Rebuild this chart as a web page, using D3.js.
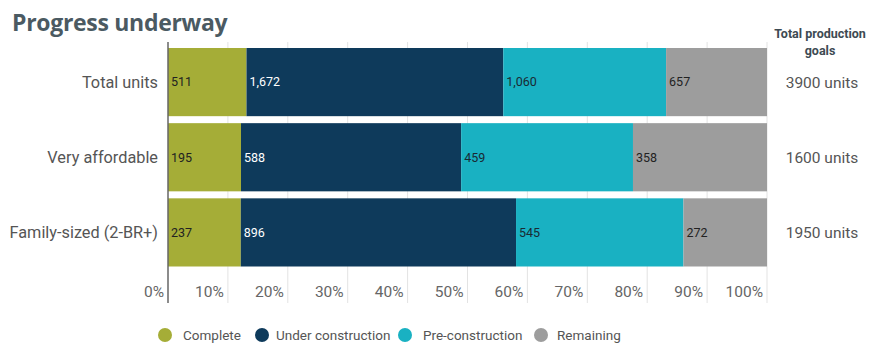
<!DOCTYPE html>
<html><head><meta charset="utf-8">
<script src="https://cdn.jsdelivr.net/npm/d3@7"></script>
<style>
body{margin:0;background:#fff;}
svg{display:block;font-family:Roboto,"Open Sans",sans-serif;}
</style></head>
<body>
<svg id="chart" width="877" height="343"></svg>
<script>
const categories = ["Total units", "Very affordable", "Family-sized (2-BR+)"];
const seriesNames = ["Complete", "Under construction", "Pre-construction", "Remaining"];
const complete = [511, 195, 237];
const underConstruction = [1672, 588, 896];
const preConstruction = [1060, 459, 545];
const remaining = [657, 358, 272];
const goals = [3900, 1600, 1950];
const goalLabels = ["3900 units", "1600 units", "1950 units"];
const tickValues = [0, 0.1, 0.2, 0.3, 0.4, 0.5, 0.6, 0.7, 0.8, 0.9, 1.0];
const colors = ["#a5ad37", "#0e3a5b", "#19b1c2", "#9d9d9d"];
const labelColors = ["#222", "#fff", "#1a2a33", "#222"];

const svg = d3.select("#chart");
const x = d3.scaleLinear().domain([0, 1]).range([168, 767]);
const y = d3.scaleBand().domain(categories).range([48, 266.5]).paddingInner(0.093).paddingOuter(0);

const seriesVals = [complete, underConstruction, preConstruction, remaining];
const rows = categories.map((c, i) => {
  const obj = {category: c};
  seriesNames.forEach((s, j) => obj[s] = seriesVals[j][i] / goals[i]);
  return obj;
});
const stacked = d3.stack().keys(seriesNames)(rows);

// gridlines
svg.append("g").selectAll("line").data(tickValues.slice(1)).join("line")
  .attr("x1", d => x(d)).attr("x2", d => x(d))
  .attr("y1", 42).attr("y2", 303)
  .attr("stroke", "#e3e3e3").attr("stroke-width", 1);

// bars
const layers = svg.append("g").selectAll("g").data(stacked).join("g")
  .attr("fill", (d, i) => colors[i]);
layers.selectAll("rect").data(d => d).join("rect")
  .attr("x", d => x(d[0]))
  .attr("width", d => x(d[1]) - x(d[0]))
  .attr("y", d => y(d.data.category))
  .attr("height", y.bandwidth());

// value labels
stacked.forEach((layer, j) => {
  svg.append("g").selectAll("text").data(layer).join("text")
    .attr("x", d => x(d[0]) + 3)
    .attr("y", d => y(d.data.category) + y.bandwidth() / 2)
    .attr("dy", "0.35em")
    .attr("font-size", 12.5)
    .attr("fill", labelColors[j])
    .text((d, i) => d3.format(",")(seriesVals[j][i]));
});

// axis line
svg.append("line").attr("x1", 168).attr("x2", 168).attr("y1", 42).attr("y2", 303)
  .attr("stroke", "#666").attr("stroke-width", 1.5);

// x tick labels
svg.append("g").selectAll("text").data(tickValues).join("text")
  .attr("x", d => x(d) - 4)
  .attr("y", 292)
  .attr("dy", "0.35em")
  .attr("text-anchor", "end")
  .attr("font-size", 15.5)
  .attr("fill", "#666")
  .text(d => d3.format(".0%")(d));

// category labels
svg.append("g").selectAll("text").data(categories).join("text")
  .attr("x", 158)
  .attr("y", d => y(d) + y.bandwidth() / 2)
  .attr("dy", "0.35em")
  .attr("text-anchor", "end")
  .attr("font-size", 16.3)
  .attr("fill", "#555")
  .text(d => d);

// goals
svg.append("g").selectAll("text").data(goalLabels).join("text")
  .attr("x", 822)
  .attr("y", (d, i) => y(categories[i]) + y.bandwidth() / 2)
  .attr("dy", "0.35em")
  .attr("text-anchor", "middle")
  .attr("font-size", 15.5)
  .attr("fill", "#555")
  .text(d => d);

svg.append("text").attr("x", 820).attr("y", 38).attr("text-anchor", "middle")
  .attr("font-size", 12.5).attr("font-weight", "bold").attr("fill", "#3d4a52").text("Total production");
svg.append("text").attr("x", 820).attr("y", 55).attr("text-anchor", "middle")
  .attr("font-size", 12.5).attr("font-weight", "bold").attr("fill", "#3d4a52").text("goals");

// title
svg.append("text").attr("x", 12).attr("y", 31)
  .attr("font-size", 23).attr("font-weight", "bold").attr("fill", "#4b5a62")
  .attr("font-family", "'Open Sans',Roboto,sans-serif")
  .attr("letter-spacing", "-0.3")
  .text("Progress underway");

// legend
const legendCircleX = [165, 262, 405, 541];
const legendTextX = [183, 276, 423, 557];
const lg = svg.append("g").selectAll("g").data(seriesNames).join("g");
lg.append("circle").attr("cx", (d, i) => legendCircleX[i]).attr("cy", 335)
  .attr("r", 7).attr("fill", (d, i) => colors[i]);
lg.append("text").attr("x", (d, i) => legendTextX[i]).attr("y", 335).attr("dy", "0.35em")
  .attr("font-size", 13.5).attr("fill", "#555").text(d => d);
</script>
</body></html>
